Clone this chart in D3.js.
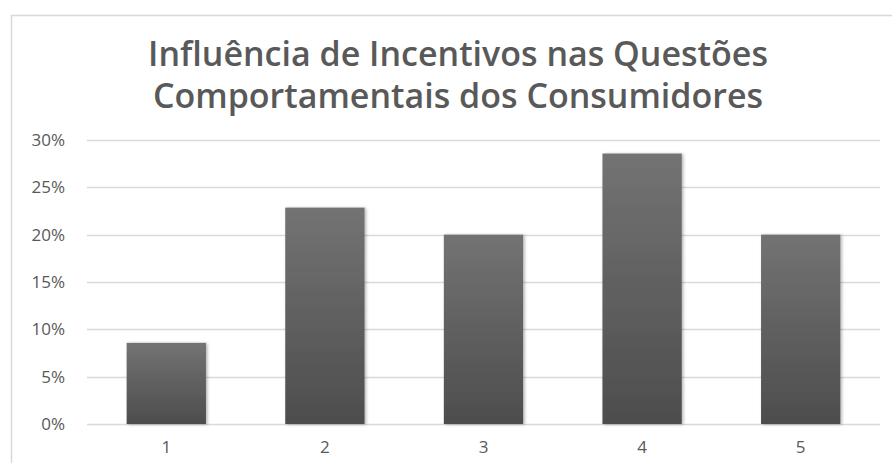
<!DOCTYPE html>
<html>
<head>
<meta charset="utf-8">
<script src="https://cdn.jsdelivr.net/npm/d3@7"></script>
<style>
  body { margin: 0; background: #fff; }
</style>
</head>
<body>
<div id="chart"></div>
<script>
// chart values (share of answers)
const categories = ["1", "2", "3", "4", "5"];
const values = [3 / 35, 8 / 35, 7 / 35, 10 / 35, 7 / 35];
const yTicks = [0, 0.05, 0.10, 0.15, 0.20, 0.25, 0.30];
const titleLines = ["Influência de Incentivos nas Questões", "Comportamentais dos Consumidores"];

// set the dimensions and margins of the graph
let W = 892, H = 463;
let margin = { top: 140, right: 12, bottom: 39, left: 87 },
  width = W - margin.left - margin.right,
  height = H - margin.top - margin.bottom;

let svg = d3.select("#chart").append("svg")
  .attr("width", W)
  .attr("height", H);

// gradient + shadow for the bars
let defs = svg.append("defs");
let grad = defs.append("linearGradient")
  .attr("id", "barGrad")
  .attr("x1", 0).attr("y1", 0).attr("x2", 0).attr("y2", 1);
grad.append("stop").attr("offset", "0%").attr("stop-color", "#737373");
grad.append("stop").attr("offset", "100%").attr("stop-color", "#4d4d4d");
let shadow = defs.append("filter").attr("id", "shadow")
  .attr("x", "-10%").attr("y", "-10%").attr("width", "130%").attr("height", "130%");
shadow.append("feDropShadow")
  .attr("dx", 1.5).attr("dy", 0.5).attr("stdDeviation", 1.5)
  .attr("flood-color", "#000").attr("flood-opacity", 0.3);

// chart area border (top and left visible)
svg.append("path")
  .attr("d", "M11.5," + H + " V15.5 H" + W)
  .style("fill", "none")
  .style("stroke", "#d9d9d9")
  .style("stroke-width", 1.5);

// title
svg.append("g").selectAll("text")
  .data(titleLines)
  .enter().append("text")
  .attr("x", 458)
  .attr("y", function (d, i) { return 66 + i * 42; })
  .attr("text-anchor", "middle")
  .style("font-family", "'Open Sans', sans-serif")
  .style("font-weight", 600)
  .style("font-size", "34px")
  .style("fill", "#595959")
  .text(function (d) { return d; });

let g = svg.append("g")
  .attr("transform", "translate(" + margin.left + "," + margin.top + ")");

// set the ranges
let x = d3.scaleBand().domain(categories).range([0, width]).paddingInner(0.5).paddingOuter(0.25);
let y = d3.scaleLinear().domain([0, 0.30]).range([height, 0]);

// gridlines
g.selectAll(".grid")
  .data(yTicks)
  .enter().append("line")
  .attr("class", "grid")
  .attr("x1", 0)
  .attr("x2", width)
  .attr("y1", function (d) { return Math.round(y(d)) + 0.5; })
  .attr("y2", function (d) { return Math.round(y(d)) + 0.5; })
  .style("stroke", "#d9d9d9")
  .style("stroke-width", 1.5);

// Y axis labels
let yAxis = g.append("g")
  .call(d3.axisLeft(y).tickValues(yTicks).tickFormat(d3.format(".0%")).tickSize(0).tickPadding(22));
yAxis.select(".domain").remove();
yAxis.selectAll("text")
  .style("font-family", "'Open Sans', sans-serif")
  .style("font-size", "17px")
  .style("fill", "#595959");

// X axis labels
let xAxis = g.append("g")
  .attr("transform", "translate(0," + height + ")")
  .call(d3.axisBottom(x).tickSize(0).tickPadding(17));
xAxis.select(".domain").remove();
xAxis.selectAll("text")
  .style("font-family", "'Open Sans', sans-serif")
  .style("font-size", "17px")
  .style("fill", "#595959");

// bars
g.selectAll(".bar")
  .data(values)
  .enter().append("rect")
  .attr("class", "bar")
  .attr("x", function (d, i) { return x(categories[i]); })
  .attr("width", x.bandwidth())
  .attr("y", function (d) { return y(d); })
  .attr("height", function (d) { return height - y(d); })
  .style("fill", "url(#barGrad)")
  .style("filter", "url(#shadow)");
</script>
</body>
</html>
